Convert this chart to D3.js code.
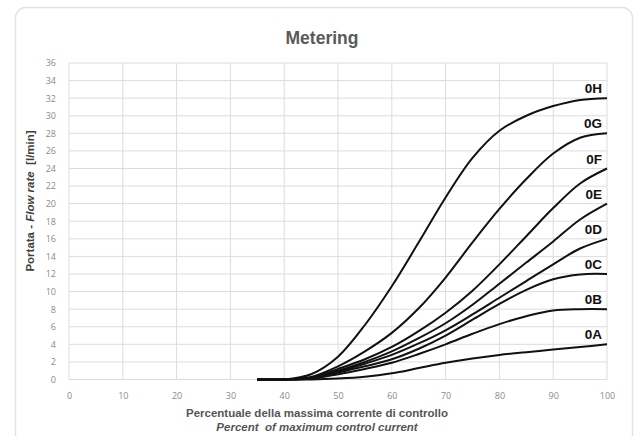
<!DOCTYPE html>
<html>
<head>
<meta charset="utf-8">
<script src="https://cdn.jsdelivr.net/npm/d3@7"></script>
<style>
  body { margin: 0; background: #fff; }
  text { font-family: "Liberation Sans", Arial, sans-serif; }
</style>
</head>
<body>
<div id="main"></div>
<script>
const W = 639, H = 436;

// x values (percent of max control current)
const xPct = [35, 40, 45, 50, 55, 60, 65, 70, 75, 80, 85, 90, 95, 100];

// flow rate l/min for each size
const series = [
    { name: "0H", values: [0, 0, 0.6, 2.6, 6.2, 10.6, 15.6, 20.7, 25.2, 28.3, 30.0, 31.1, 31.8, 32] },
    { name: "0G", values: [0, 0, 0.3, 1.5, 3.2, 5.3, 8.1, 11.6, 15.6, 19.4, 22.8, 25.7, 27.5, 28] },
    { name: "0F", values: [0, 0, 0.2, 1.2, 2.3, 3.7, 5.5, 7.6, 10.1, 13.1, 16.3, 19.5, 22.3, 24] },
    { name: "0E", values: [0, 0, 0.2, 1.0, 2.0, 3.2, 4.7, 6.4, 8.5, 10.9, 13.3, 15.7, 18.2, 20] },
    { name: "0D", values: [0, 0, 0.2, 0.9, 1.8, 2.8, 4.1, 5.6, 7.4, 9.3, 11.2, 13.1, 14.9, 16] },
    { name: "0C", values: [0, 0, 0.1, 0.8, 1.5, 2.3, 3.5, 5.0, 6.8, 8.6, 10.2, 11.4, 11.95, 12] },
    { name: "0B", values: [0, 0, 0.1, 0.6, 1.2, 1.9, 2.9, 4.0, 5.2, 6.3, 7.2, 7.85, 8.0, 8] },
    { name: "0A", values: [0, 0, 0, 0.1, 0.3, 0.7, 1.3, 1.9, 2.4, 2.8, 3.1, 3.4, 3.7, 4] },
];

const xTicks = d3.range(0, 101, 10);
const yTicks = d3.range(0, 37, 2);

const margin = { left: 69, right: 32, top: 63, bottom: 57 };

function draw() {
    const svg = d3.select("#main").append("svg")
        .attr("width", W).attr("height", H);

    // card
    svg.append("rect")
        .attr("x", 15.5).attr("y", 7.5)
        .attr("width", 617).attr("height", 440)
        .attr("rx", 10)
        .attr("fill", "#fff")
        .attr("stroke", "#e2e2e2")
        .attr("stroke-width", 1.5);

    const x = d3.scaleLinear().domain([0, 100]).range([margin.left, W - margin.right]);
    const y = d3.scaleLinear().domain([0, 36]).range([H - margin.bottom + 0.5, margin.top]);

    // grid
    const grid = svg.append("g").attr("class", "grid");
    grid.selectAll("line.h").data(yTicks).enter().append("line")
        .attr("x1", x(0)).attr("x2", x(100))
        .attr("y1", d => y(d)).attr("y2", d => y(d))
        .attr("stroke", "#dcdcdc").attr("stroke-width", 1);
    grid.selectAll("line.v").data(xTicks).enter().append("line")
        .attr("y1", y(0)).attr("y2", y(36))
        .attr("x1", d => x(d)).attr("x2", d => x(d))
        .attr("stroke", "#dcdcdc").attr("stroke-width", 1);

    // axes (labels only)
    const yAxis = svg.append("g")
        .attr("transform", `translate(${x(0) - 10},0)`)
        .call(d3.axisLeft(y).tickValues(yTicks).tickSize(0));
    yAxis.select(".domain").remove();
    yAxis.selectAll("text").attr("fill", "#8a8a8a").attr("font-size", 9)
        .style("font-family", "'Open Sans', sans-serif");

    const xAxis = svg.append("g")
        .attr("transform", `translate(0,${y(0) + 10})`)
        .call(d3.axisBottom(x).tickValues(xTicks).tickSize(0));
    xAxis.select(".domain").remove();
    xAxis.selectAll("text").attr("fill", "#8a8a8a").attr("font-size", 9)
        .style("font-family", "'Open Sans', sans-serif");

    // curves
    const line = d3.line()
        .x((d, i) => x(xPct[i]))
        .y(d => y(d))
        .curve(d3.curveCatmullRom.alpha(0.5));

    svg.append("g").selectAll("path")
        .data(series).enter().append("path")
        .attr("d", d => line(d.values))
        .attr("fill", "none")
        .attr("stroke", "#111")
        .attr("stroke-width", 2);

    // series labels
    svg.append("g").selectAll("text")
        .data(series).enter().append("text")
        .attr("x", x(100) - 5)
        .attr("y", d => y(d.values[d.values.length - 1]) - 5)
        .attr("text-anchor", "end")
        .attr("font-size", 13.5)
        .attr("font-weight", "bold")
        .attr("fill", "#111")
        .text(d => d.name);

    // title
    svg.append("text")
        .attr("x", 322).attr("y", 44)
        .attr("text-anchor", "middle")
        .attr("font-size", 17.5).attr("font-weight", "bold")
        .attr("fill", "#595959")
        .text("Metering");

    // y title
    const yt = svg.append("text")
        .attr("transform", "translate(34,201) rotate(-90)")
        .attr("text-anchor", "middle")
        .attr("font-size", 11.5).attr("font-weight", "bold")
        .attr("fill", "#404040");
    yt.append("tspan").text("Portata - ");
    yt.append("tspan").attr("font-style", "italic").text("Flow rate");
    yt.append("tspan").text("\u00a0\u00a0[l/min]");

    // x title
    svg.append("text")
        .attr("x", 317).attr("y", 417)
        .attr("text-anchor", "middle")
        .attr("font-size", 11.5).attr("font-weight", "bold")
        .attr("fill", "#555")
        .text("Percentuale della massima corrente di controllo");
    svg.append("text")
        .attr("x", 317).attr("y", 431)
        .attr("text-anchor", "middle")
        .attr("font-size", 11.5).attr("font-weight", "bold")
        .attr("font-style", "italic")
        .attr("fill", "#555")
        .text("Percent\u00a0 of maximum control current");
}

draw();
</script>
</body>
</html>
